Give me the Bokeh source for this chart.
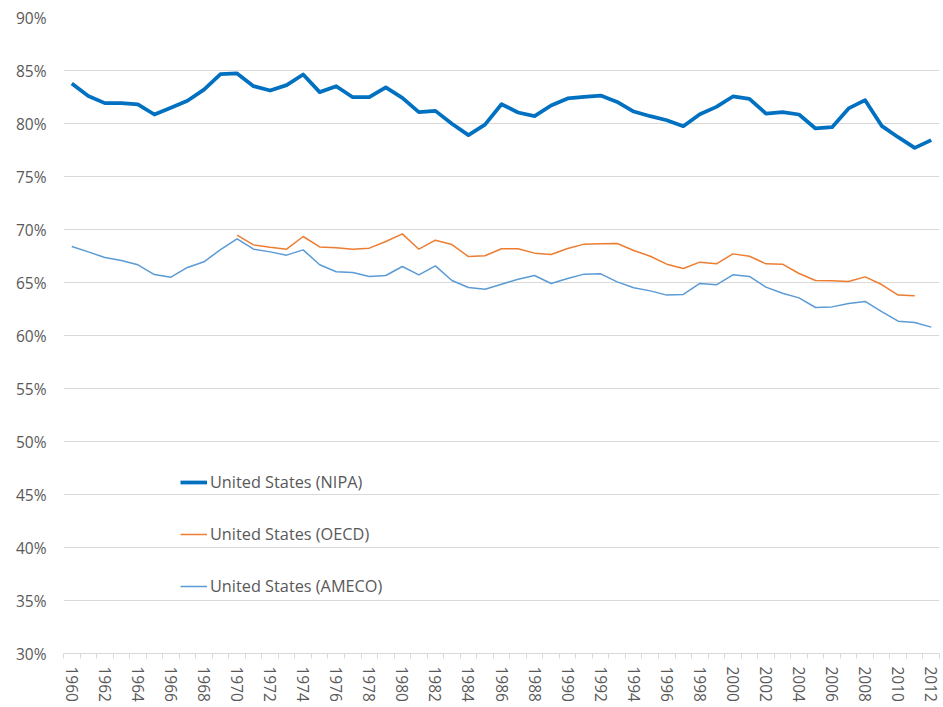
from bokeh.plotting import figure
from bokeh.models import Range1d, FixedTicker, PrintfTickFormatter, Legend, LegendItem
from bokeh.embed import file_html
from bokeh.resources import INLINE

years = list(range(1960, 2013))

nipa = [83.77, 82.6, 81.92, 81.92, 81.8, 80.85, 81.48, 82.14, 83.2, 84.65,
        84.72, 83.52, 83.11, 83.62, 84.62, 82.96, 83.52, 82.48, 82.48, 83.4,
        82.42, 81.07, 81.19, 79.97, 78.9, 79.9, 81.82, 81.04, 80.69, 81.7,
        82.36, 82.52, 82.64, 82.04, 81.13, 80.69, 80.31, 79.75, 80.88, 81.57,
        82.55, 82.33, 80.94, 81.07, 80.85, 79.53, 79.65, 81.42, 82.2, 79.78,
        78.71, 77.7, 78.43]

oecd_years = list(range(1970, 2012))
oecd = [69.47, 68.55, 68.33, 68.14, 69.34, 68.36, 68.27, 68.14, 68.24, 68.87,
        69.59, 68.14, 68.99, 68.58, 67.45, 67.52, 68.18, 68.18, 67.77, 67.64,
        68.21, 68.62, 68.65, 68.68, 68.02, 67.48, 66.73, 66.32, 66.92, 66.76,
        67.7, 67.48, 66.76, 66.73, 65.85, 65.19, 65.16, 65.09, 65.53, 64.81,
        63.81, 63.74]

ameco = [68.4, 67.89, 67.36, 67.08, 66.67, 65.75, 65.5, 66.42, 66.95, 68.11,
         69.12, 68.14, 67.89, 67.58, 68.08, 66.67, 66.01, 65.94, 65.57, 65.66,
         66.51, 65.72, 66.57, 65.19, 64.53, 64.37, 64.84, 65.31, 65.66, 64.91,
         65.38, 65.79, 65.82, 65.06, 64.5, 64.21, 63.81, 63.87, 64.91, 64.78,
         65.72, 65.57, 64.56, 63.99, 63.55, 62.64, 62.7, 63.02, 63.21, 62.26,
         61.35, 61.23, 60.79]

y_ticks = list(range(30, 91, 5))
x_label_years = years[::2]

labels = ["United States (NIPA)", "United States (OECD)", "United States (AMECO)"]
colors = ["#0070C0", "#ED7D31", "#5B9BD5"]

FONT = "Open Sans"
TXT = "#595959"
GRID = "#d9d9d9"

p = figure(width=943, height=707, output_backend="svg", toolbar_location=None,
           x_range=Range1d(years[0] - 0.5, years[-1] + 0.5),
           y_range=Range1d(30, 90),
           min_border_left=63, min_border_right=4, min_border_top=17, min_border_bottom=54)
p.outline_line_color = None
p.background_fill_color = "white"

r1 = p.line(years, nipa, line_color=colors[0], line_width=3.75, line_join="round")
r2 = p.line(oecd_years, oecd, line_color=colors[1], line_width=1.5)
r3 = p.line(years, ameco, line_color=colors[2], line_width=1.5)

# y axis
p.yaxis.ticker = FixedTicker(ticks=y_ticks)
p.yaxis.formatter = PrintfTickFormatter(format="%d%%")
p.yaxis.axis_line_color = None
p.yaxis.major_tick_line_color = None
p.yaxis.minor_tick_line_color = None
p.yaxis.major_tick_out = 0
p.yaxis.major_tick_in = 0
p.yaxis.major_label_standoff = 17
p.yaxis.major_label_text_font = FONT
p.yaxis.major_label_text_font_size = "15.5px"
p.yaxis.major_label_text_color = TXT

p.ygrid.ticker = FixedTicker(ticks=y_ticks)
p.ygrid.grid_line_color = GRID
p.ygrid.grid_line_width = 1
p.xgrid.grid_line_color = None

# x axis
p.xaxis.ticker = FixedTicker(ticks=x_label_years,
                             minor_ticks=[y - 0.5 for y in years] + [years[-1] + 0.5])
p.xaxis.axis_line_color = GRID
p.xaxis.major_tick_line_color = None
p.xaxis.major_tick_out = 0
p.xaxis.major_tick_in = 0
p.xaxis.minor_tick_line_color = GRID
p.xaxis.minor_tick_out = 5
p.xaxis.minor_tick_in = 0
p.xaxis.major_label_orientation = "vertical"
p.xaxis.major_label_standoff = 8
p.xaxis.major_label_text_font = FONT
p.xaxis.major_label_text_font_size = "15.5px"
p.xaxis.major_label_text_color = TXT

legend = Legend(items=[LegendItem(label=labels[0], renderers=[r1]),
                       LegendItem(label=labels[1], renderers=[r2]),
                       LegendItem(label=labels[2], renderers=[r3])],
                location=(117, 56), orientation="vertical")
legend.padding = 0
legend.margin = 0
legend.spacing = 30
legend.label_height = 20
legend.glyph_height = 20
legend.glyph_width = 27
legend.label_standoff = 3
legend.border_line_color = None
legend.background_fill_alpha = 0
legend.label_text_font = FONT
legend.label_text_font_size = "16.3px"
legend.label_text_color = TXT
p.add_layout(legend, "center")

open("out.html", "w").write(file_html(p, INLINE))
